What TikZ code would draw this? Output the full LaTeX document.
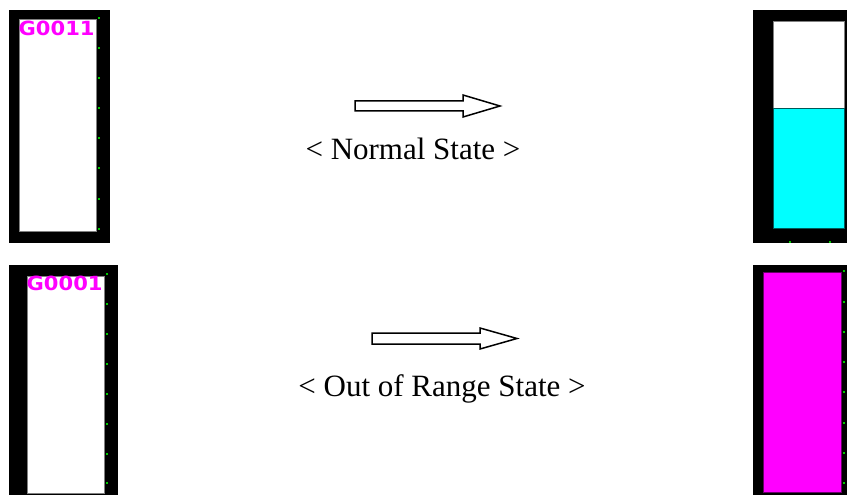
\documentclass[tikz,border=0pt]{standalone}
\usepackage{fontspec}
\setmainfont{Liberation Serif}
\newfontfamily\tagfont{DejaVu Sans}
\definecolor{tickgreen}{RGB}{0,200,0}
\definecolor{barmag}{RGB}{255,0,255}
\definecolor{barcyan}{RGB}{0,255,255}
\newcommand{\widetag}[1]{\scalebox{1.08}[1]{#1}}
\tikzset{
  panel/.style={fill=black},
  gauge/.style={fill=white, draw=gray, line width=0.8pt},
  tick/.style={fill=tickgreen},
  blockarrow/.style={draw=black, fill=white, line width=1.5pt, line join=miter},
  statelabel/.style={font=\fontsize{31}{33}\selectfont, inner sep=0pt},
  tagtext/.style={font=\tagfont\bfseries\fontsize{19.5}{20}\selectfont, text=barmag, inner sep=0pt, anchor=north west}
}
\begin{document}
\begin{tikzpicture}[x=1pt,y=-1pt]
  \useasboundingbox (0,0) rectangle (847,495);
  % Normal state, before
  \fill[panel] (9,10) rectangle (110,243);
  \draw[gauge] (19,19) rectangle (96,231);
  \foreach \y in {18,48,78,108,138,168,199,229}
    \fill[tick] (98,\y-1) rectangle (100,\y+1);
  \node[tagtext] (tagA) at (18.5,21) {\widetag{G0011}};
  % Normal state, after
  \fill[panel] (753,10) rectangle (847,243);
  \draw[gauge] (773,21) rectangle (844,228);
  \fill[barcyan, draw=teal!70!black, line width=0.8pt] (773,108) rectangle (844,228);
  \foreach \x in {790,830}
    \fill[tick] (\x-1,241) rectangle (\x+1,243);
  % Out of range, before
  \fill[panel] (9,265) rectangle (118,495);
  \draw[gauge] (27,276) rectangle (104,493);
  \foreach \y in {274,304,334,364,394,424,454,483}
    \fill[tick] (106,\y-1) rectangle (108,\y+1);
  \node[tagtext] (tagB) at (26.5,276) {\widetag{G0001}};
  % Out of range, after
  \fill[panel] (753,265) rectangle (847,495);
  \fill[barmag, draw=violet!80!black, line width=0.8pt] (763,272) rectangle (841,492);
  \foreach \y in {271,302,332,362,392,423,453,483}
    \fill[tick] (843,\y-1) rectangle (845,\y+1);
  % Arrows and labels
  \draw[blockarrow] (355,101) -- (463,101) -- (463,95) -- (500,106) -- (463,117) -- (463,111) -- (355,111) -- cycle;
  \node[statelabel, anchor=base] (normal) at (413,160) {< Normal State >};
  \draw[blockarrow] (372,333) -- (480,333) -- (480,328) -- (517,338.5) -- (480,349) -- (480,344) -- (372,344) -- cycle;
  \node[statelabel, anchor=base] (outrange) at (442,396) {< Out of Range State >};
\end{tikzpicture}
\end{document}
